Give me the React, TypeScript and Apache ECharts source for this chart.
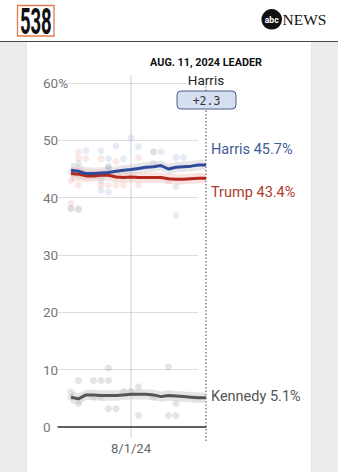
import React, { useEffect, useRef } from "react";
import * as echarts from "echarts";

const dates = [
  "2024-07-24", "2024-07-25", "2024-07-26", "2024-07-27", "2024-07-28", "2024-07-29", "2024-07-30",
  "2024-07-31", "2024-08-01", "2024-08-02", "2024-08-03", "2024-08-04", "2024-08-05", "2024-08-06",
  "2024-08-07", "2024-08-08", "2024-08-09", "2024-08-10", "2024-08-11",
];
const harris = [44.8, 44.6, 44.2, 44.2, 44.3, 44.4, 44.6, 44.8, 44.9, 45.1, 45.3, 45.4, 45.6, 45.0, 45.3, 45.4, 45.5, 45.7, 45.7];
const trump = [44.2, 44.1, 43.8, 43.8, 43.9, 43.9, 43.6, 43.5, 43.6, 43.5, 43.5, 43.5, 43.5, 43.3, 43.2, 43.2, 43.3, 43.4, 43.4];
const kennedy = [5.2, 4.9, 5.6, 5.6, 5.5, 5.5, 5.5, 5.6, 5.7, 5.7, 5.7, 5.6, 5.3, 5.5, 5.4, 5.3, 5.2, 5.1, 5.1];

// half-widths of the shaded uncertainty bands, read per day
const harrisMargin = [1.3, 1.2, 1.1, 1.0, 1.0, 0.9, 0.9, 0.9, 0.9, 0.9, 0.9, 0.9, 0.9, 0.9, 0.9, 0.9, 0.9, 0.9, 0.9];
const trumpMargin = [1.3, 1.2, 1.1, 1.0, 1.0, 0.9, 0.9, 0.9, 0.9, 0.9, 0.9, 0.9, 0.9, 0.9, 0.9, 0.9, 0.9, 0.9, 0.9];
const kennedyMargin = [1.0, 1.0, 0.9, 0.9, 0.9, 0.9, 0.9, 0.9, 0.9, 0.9, 0.9, 0.9, 0.9, 0.9, 0.9, 0.9, 0.9, 0.9, 0.9];

const harrisPolls: [string, number][] = [
  ["2024-07-24", 44.5], ["2024-07-25", 46.0], ["2024-07-26", 48.2], ["2024-07-28", 48.2],
  ["2024-07-28", 41.3], ["2024-07-28", 42.9], ["2024-07-29", 46.8], ["2024-07-29", 45.1],
  ["2024-07-29", 41.0], ["2024-07-30", 49.0], ["2024-07-31", 46.8], ["2024-08-01", 50.4],
  ["2024-08-02", 48.9], ["2024-08-04", 46.0], ["2024-08-05", 48.0], ["2024-08-07", 47.0],
  ["2024-08-08", 47.0], ["2024-08-07", 41.9],
];
const trumpPolls: [string, number][] = [
  ["2024-07-24", 43.0], ["2024-07-24", 39.0], ["2024-07-25", 48.0], ["2024-07-25", 46.9],
  ["2024-07-25", 42.2], ["2024-07-26", 46.8], ["2024-07-28", 46.8], ["2024-07-28", 42.2],
  ["2024-07-29", 42.2], ["2024-07-30", 42.2], ["2024-07-30", 46.3], ["2024-07-31", 42.2],
  ["2024-08-02", 47.0], ["2024-08-02", 42.2], ["2024-08-06", 43.0], ["2024-08-07", 36.9],
];
const otherPolls: [string, number][] = [
  ["2024-07-24", 38.1], ["2024-07-25", 38.0], ["2024-08-04", 48.0], ["2024-07-29", 45.4],
];
const kennedyPolls: [string, number][] = [
  ["2024-07-24", 6.1], ["2024-07-24", 5.2], ["2024-07-25", 8.1], ["2024-07-25", 4.1],
  ["2024-07-27", 8.1], ["2024-07-27", 5.2], ["2024-07-28", 8.1], ["2024-07-28", 5.2],
  ["2024-07-29", 8.1], ["2024-07-29", 10.3], ["2024-07-29", 3.2], ["2024-07-30", 3.2],
  ["2024-07-31", 6.2], ["2024-08-01", 6.2], ["2024-08-02", 7.0], ["2024-08-02", 2.0],
  ["2024-08-04", 5.2], ["2024-08-06", 10.5], ["2024-08-06", 2.0], ["2024-08-07", 2.0],
  ["2024-08-07", 4.1],
];

const yTicks = [0, 10, 20, 30, 40, 50, 60];
const xLabelDate = "2024-08-01";
const leaderDate = "2024-08-11";
const headerText = "AUG. 11, 2024 LEADER";
const leaderName = "Harris";
const leaderMargin = "+2.3";

// dates are placed on a day-number value axis (days since July 1, 2024)
const BASE = new Date(2024, 6, 1).getTime();
const DAY = 86400000;
const dayNum = (s: string) => {
  const [y, m, d] = s.split("-").map(Number);
  return Math.round((new Date(y, m - 1, d).getTime() - BASE) / DAY);
};
const fmtDay = (v: number) => {
  const d = new Date(2024, 6, 1 + Math.round(v));
  return `${d.getMonth() + 1}/${d.getDate()}/${String(d.getFullYear()).slice(2)}`;
};

function bandSeries(name: string, vals: number[], margin: number[], color: string) {
  return {
    name: name + " band",
    type: "custom",
    data: dates.map((d, i) => [dayNum(d), vals[i] - margin[i], vals[i] + margin[i]]),
    encode: { x: 0, y: [1, 2] },
    silent: true,
    z: 2,
    renderItem: (params: any, api: any) => {
      if (params.dataIndexInside !== 0) return null;
      const n = params.dataInsideLength;
      const upper: number[][] = [];
      const lower: number[][] = [];
      for (let j = 0; j < n; j++) {
        const x = api.value(0, j);
        lower.push(api.coord([x, api.value(1, j)]));
        upper.push(api.coord([x, api.value(2, j)]));
      }
      return {
        type: "polygon",
        shape: { points: lower.concat(upper.reverse()) },
        style: { fill: color },
      };
    },
  };
}

function scatter(name: string, data: [string, number][], color: string) {
  return {
    name,
    type: "scatter",
    data: data.map(([d, v]) => [dayNum(d), v]),
    symbolSize: 7,
    itemStyle: { color },
    silent: true,
    z: 1,
  };
}

function mainLine(name: string, vals: number[], color: string, labelColor: string, dy: number) {
  return {
    name,
    type: "line",
    data: dates.map((d, i) => [dayNum(d), vals[i]]),
    showSymbol: false,
    lineStyle: { color, width: 3 },
    itemStyle: { color },
    z: 3,
    endLabel: {
      show: true,
      distance: 5,
      offset: [0, dy],
      color: labelColor,
      fontFamily: "Roboto",
      fontSize: 14.5,
      formatter: (p: any) => `${p.seriesName} ${p.value[1]}%`,
    },
  };
}

export default function App() {
  const ref = useRef<HTMLDivElement>(null);
  useEffect(() => {
    if (!ref.current) return;
    const chart = echarts.init(ref.current, null, { renderer: "svg" });
    const xMax = dayNum(leaderDate);
    const xMin = dayNum(xLabelDate) - 9.73;
    chart.setOption({
      animation: false,
      backgroundColor: "transparent",
      grid: { left: 58, right: 132, top: 83, bottom: 45 },
      xAxis: {
        type: "value",
        min: xMin,
        max: xMax,
        axisLine: { lineStyle: { color: "#333", width: 1.5 } },
        axisTick: { show: false },
        splitLine: { show: false },
        axisLabel: {
          customValues: [dayNum(xLabelDate)],
          color: "#666",
          fontSize: 13,
          fontFamily: "Liberation Sans Narrow, Roboto",
          margin: 15,
          formatter: (v: number) => fmtDay(v),
        },
      },
      yAxis: {
        type: "value",
        min: yTicks[0],
        max: yTicks[yTicks.length - 1],
        interval: 10,
        axisLine: { show: false },
        axisTick: { show: false },
        splitLine: { lineStyle: { color: "#dedede", width: 1 } },
        axisLabel: {
          align: "left",
          margin: 15,
          color: "#777",
          fontSize: 13.5,
          fontFamily: "Liberation Sans Narrow, Roboto",
          formatter: (v: number) => (v === 60 ? "60%" : String(v)),
        },
      },
      series: [
        scatter("Harris polls", harrisPolls, "rgba(150,175,215,0.3)"),
        scatter("Trump polls", trumpPolls, "rgba(235,165,155,0.3)"),
        scatter("Other polls", otherPolls, "rgba(120,120,130,0.3)"),
        scatter("Kennedy polls", kennedyPolls, "rgba(125,125,125,0.25)"),
        bandSeries("harris", harris, harrisMargin, "rgba(185,185,195,0.35)"),
        bandSeries("trump", trump, trumpMargin, "rgba(235,175,165,0.35)"),
        bandSeries("kennedy", kennedy, kennedyMargin, "rgba(195,195,195,0.45)"),
        mainLine("Trump", trump, "#b3281d", "#ad3a2e", 14),
        mainLine("Harris", harris, "#2d4b9a", "#3f5c98", -15),
        mainLine("Kennedy", kennedy, "#555555", "#555555", -1),
      ],
    });

    const x81 = chart.convertToPixel({ xAxisIndex: 0 }, dayNum(xLabelDate)) as number;
    const xLead = chart.convertToPixel({ xAxisIndex: 0 }, dayNum(leaderDate)) as number;

    chart.setOption({
      graphic: [
        { type: "line", shape: { x1: x81, y1: 75, x2: x81, y2: 438 }, style: { stroke: "#cfcfcf", lineWidth: 1 }, silent: true },
        { type: "rect", shape: { x: xLead - 8, y: 84, width: 7, height: 341 }, style: { fill: "#fff" }, silent: true },
        { type: "line", shape: { x1: xLead, y1: 86, x2: xLead, y2: 443 }, style: { stroke: "#444", lineWidth: 1, lineDash: [1.5, 2] }, silent: true },
        { type: "rect", shape: { x: 17.5, y: 5.5, width: 36.5, height: 30.5 }, style: { fill: "#fff", stroke: "#e07b4c", lineWidth: 1.3 } },
        { type: "text", x: 35.8, y: 21, scaleX: 0.5, style: { text: "538", font: "bold 37px Roboto", fill: "#111", textAlign: "center", textVerticalAlign: "middle" } },
        { type: "circle", shape: { cx: 271.7, cy: 19.3, r: 10.3 }, style: { fill: "#111" } },
        { type: "text", x: 271.7, y: 19.8, style: { text: "abc", font: "bold 8.5px Roboto", fill: "#fff", textAlign: "center", textVerticalAlign: "middle" } },
        { type: "text", x: 282.5, y: 19.8, style: { text: "NEWS", font: "15.5px 'Liberation Serif'", fill: "#111", textAlign: "left", textVerticalAlign: "middle" } },
        { type: "text", x: xLead, y: 62, style: { text: headerText, font: "bold 10.8px Roboto", fill: "#111", textAlign: "center", textVerticalAlign: "middle" } },
        { type: "text", x: xLead, y: 79.5, style: { text: leaderName, font: "13.5px Roboto", fill: "#222", textAlign: "center", textVerticalAlign: "middle", backgroundColor: "#fff", padding: [0, 1] } },
        { type: "rect", shape: { x: xLead - 29, y: 91, width: 59, height: 18, r: 4 }, style: { fill: "#d5dfef", stroke: "#4d5f85", lineWidth: 1 } },
        { type: "text", x: xLead + 0.5, y: 100.5, style: { text: leaderMargin, font: "11.5px 'DejaVu Sans Mono'", fill: "#333", textAlign: "center", textVerticalAlign: "middle" } },
      ],
    });
    return () => chart.dispose();
  }, []);

  return (
    <div style={{ position: "fixed", left: 0, top: 0, width: 338, height: 472, background: "#ececec", overflow: "hidden" }}>
      <div style={{ position: "absolute", left: 0, top: 0, width: 338, height: 40.5, background: "#fff", borderBottom: "1.5px solid #4a4a4a" }} />
      <div style={{ position: "absolute", left: 27, top: 42, width: 284, height: 430, background: "#fff", boxShadow: "0 0 3px rgba(0,0,0,0.08)" }} />
      <div ref={ref} style={{ position: "absolute", left: 0, top: 0, width: 338, height: 472 }} />
    </div>
  );
}
